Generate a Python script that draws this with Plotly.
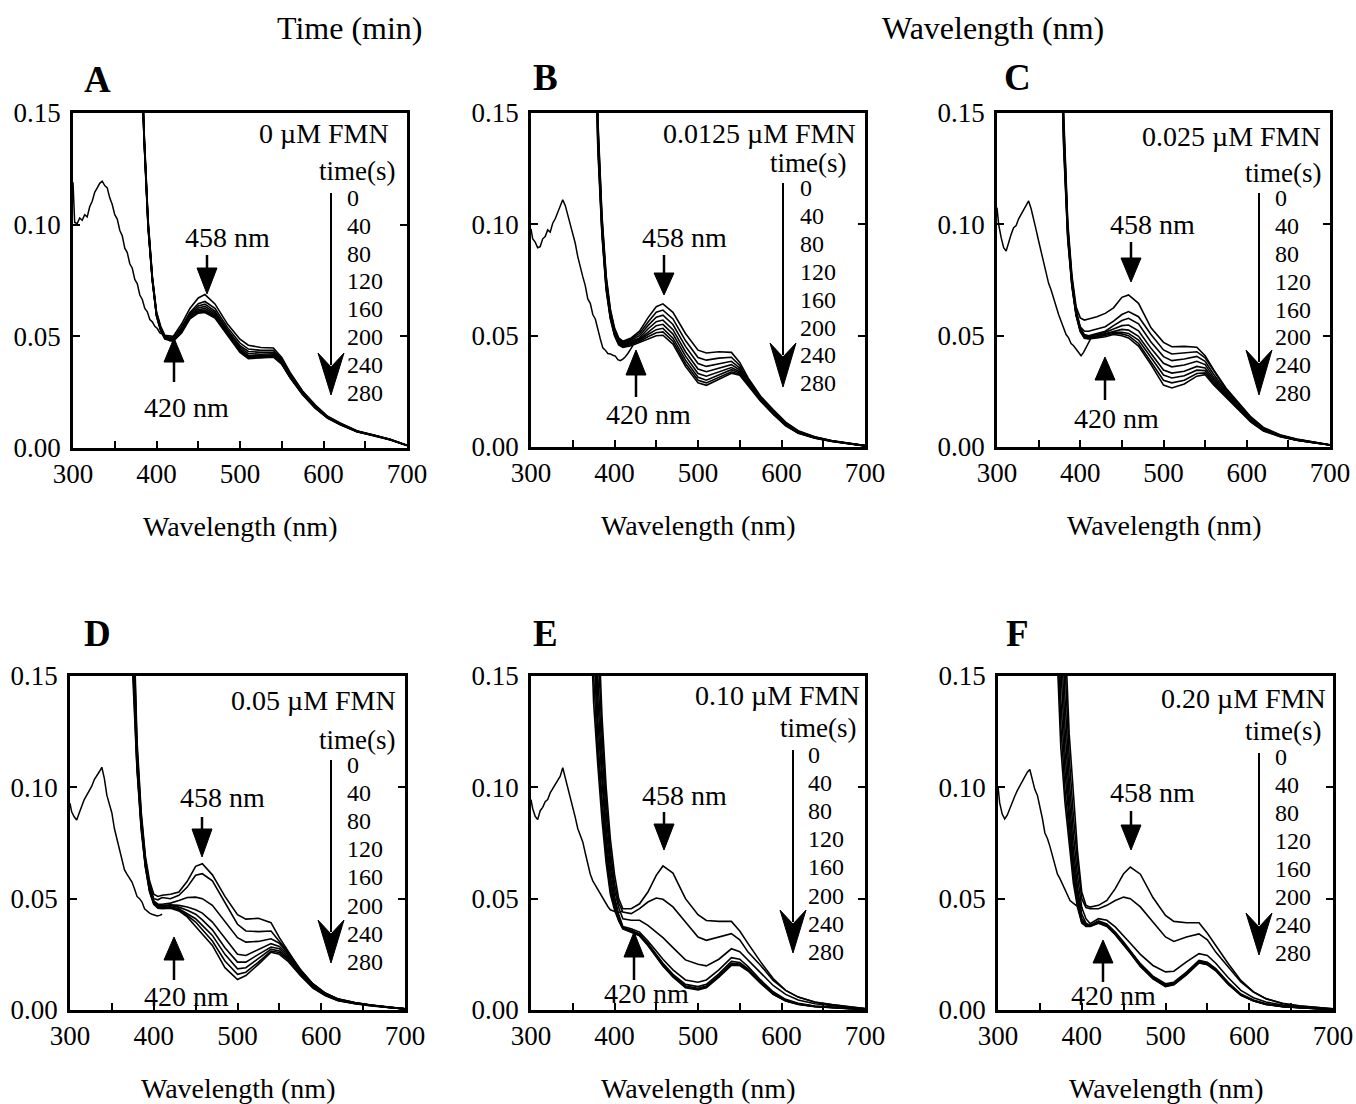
import plotly.graph_objects as go

# ---------------- data ----------------
TIMES = [0, 40, 80, 120, 160, 200, 240, 280]
TIME_LABELS = ["0", "40", "80", "120", "160", "200", "240", "280"]
FMN_LABELS = ["0 µM FMN", "0.0125 µM FMN", "0.025 µM FMN", "0.05 µM FMN", "0.10 µM FMN", "0.20 µM FMN"]
PANEL_LETTERS = ["A", "B", "C", "D", "E", "F"]
X_TICKS = [300, 400, 500, 600, 700]
Y_TICKS = [0.00, 0.05, 0.10, 0.15]

WL = [370, 375, 380, 385, 390, 395, 400, 405, 410, 420, 430, 440, 450, 458, 470, 485,
      500, 510, 525, 540, 550, 560, 575, 590, 605, 620, 640, 660, 680, 700]

REF_WL = [300, 302, 305, 308, 311, 314, 317, 320, 323, 326, 329, 332, 335, 338, 341, 344,
          347, 350, 353, 356, 359, 362, 365, 368, 371, 374, 377, 380, 383, 386, 389, 392,
          395, 398, 401, 404, 407, 410, 413, 416, 419, 422]

A_REF = [0.119, 0.101, 0.1005, 0.103, 0.102, 0.1045, 0.1035, 0.108, 0.1105, 0.1145, 0.1165, 0.1185,
         0.1195, 0.1175, 0.1165, 0.112, 0.109, 0.1045, 0.1025, 0.0975, 0.095, 0.0895, 0.0875, 0.0825,
         0.0805, 0.0755, 0.0735, 0.0685, 0.0665, 0.0625, 0.061, 0.0575, 0.0565, 0.0545, 0.0535, 0.0515,
         0.051, 0.0495, 0.049, 0.048, 0.0485, 0.0488]
B_REF = [0.098, 0.0935, 0.092, 0.0895, 0.090, 0.0935, 0.0945, 0.0975, 0.0965, 0.1005, 0.1025, 0.1055,
         0.1085, 0.111, 0.1085, 0.1045, 0.1005, 0.0955, 0.0915, 0.0855, 0.0805, 0.0765, 0.0725, 0.0665,
         0.0645, 0.0595, 0.0575, 0.0525, 0.0485, 0.0445, 0.0435, 0.042, 0.0418, 0.0412, 0.0408, 0.0392,
         0.0388, 0.0395, 0.0405, 0.042, 0.0438, 0.0455]
C_REF = [0.1075, 0.100, 0.094, 0.0895, 0.088, 0.092, 0.0955, 0.0985, 0.0995, 0.1025, 0.1045, 0.1065,
         0.109, 0.1105, 0.107, 0.1015, 0.0975, 0.0925, 0.0875, 0.0825, 0.0785, 0.0735, 0.0705, 0.0665,
         0.0635, 0.0595, 0.0565, 0.0535, 0.0505, 0.049, 0.0465, 0.0455, 0.044, 0.0425, 0.041, 0.0425,
         0.0445, 0.0465, 0.049, None, None, None]
D_REF = [0.0928, 0.089, 0.0868, 0.0853, 0.0885, 0.0915, 0.0945, 0.0965, 0.0985, 0.1005, 0.1035, 0.105,
         0.107, 0.109, 0.104, 0.0965, 0.0925, 0.0885, 0.0815, 0.077, 0.0725, 0.0685, 0.063, 0.061,
         0.0595, 0.0575, 0.0545, 0.051, 0.050, 0.0485, 0.0455, 0.0445, 0.0435, 0.043, 0.0425, 0.0422,
         0.0425, 0.043, None, None, None, None]
E_REF = [0.0945, 0.0905, 0.087, 0.0855, 0.0895, 0.091, 0.0935, 0.0945, 0.0975, 0.0995, 0.1015, 0.103,
         0.105, 0.1088, 0.1045, 0.1005, 0.096, 0.0915, 0.0865, 0.0815, 0.078, 0.0755, 0.0705, 0.0655,
         0.061, 0.058, 0.056, 0.054, 0.0525, 0.0505, 0.0485, 0.0465, 0.045, 0.0445, 0.044, 0.0437,
         0.044, 0.0445, None, None, None, None]
F_REF = [0.1005, 0.093, 0.088, 0.0858, 0.0875, 0.0905, 0.0935, 0.096, 0.0985, 0.1005, 0.103, 0.105,
         0.1068, 0.108, 0.104, 0.099, 0.0965, 0.0915, 0.086, 0.0795, 0.077, 0.0735, 0.0695, 0.066,
         0.061, 0.059, 0.0565, 0.054, 0.0515, 0.0492, 0.0482, 0.0472, 0.0465, 0.0462, 0.0458, None,
         None, None, None, None, None, None]

# spectra per time point (rows: 0..280 s), columns follow WL
A_SPECTRA = [
    [0.40, 0.30, 0.205, 0.143, 0.102, 0.077, 0.061, 0.0545, 0.0505, 0.0500, 0.0555, 0.0625, 0.0672, 0.0687, 0.0645, 0.0555, 0.0487, 0.0460, 0.0450, 0.0448, 0.0405, 0.0338, 0.0255, 0.0193, 0.0142, 0.0112, 0.0077, 0.0058, 0.0039, 0.0012],
    [0.40, 0.30, 0.204, 0.142, 0.101, 0.0765, 0.0605, 0.054, 0.050, 0.0493, 0.0542, 0.0607, 0.0646, 0.0656, 0.0625, 0.0540, 0.0470, 0.0443, 0.0437, 0.0437, 0.0397, 0.0332, 0.0251, 0.0190, 0.0140, 0.0110, 0.0076, 0.0058, 0.0038, 0.0012],
    [0.40, 0.30, 0.203, 0.141, 0.1005, 0.076, 0.060, 0.0535, 0.0498, 0.0490, 0.0536, 0.0601, 0.0636, 0.0644, 0.0613, 0.0530, 0.0458, 0.0432, 0.0428, 0.0429, 0.0391, 0.0327, 0.0248, 0.0187, 0.0138, 0.0109, 0.0075, 0.0057, 0.0038, 0.0012],
    [0.40, 0.30, 0.202, 0.1405, 0.100, 0.0758, 0.0598, 0.0533, 0.0496, 0.0488, 0.0531, 0.0596, 0.0627, 0.0634, 0.0605, 0.0523, 0.0450, 0.0423, 0.0420, 0.0422, 0.0386, 0.0323, 0.0245, 0.0185, 0.0137, 0.0108, 0.0075, 0.0057, 0.0038, 0.0012],
    [0.40, 0.30, 0.201, 0.140, 0.0995, 0.0755, 0.0596, 0.0531, 0.0494, 0.0485, 0.0526, 0.0591, 0.0619, 0.0625, 0.0598, 0.0517, 0.0443, 0.0415, 0.0414, 0.0417, 0.0382, 0.0320, 0.0243, 0.0183, 0.0136, 0.0107, 0.0074, 0.0057, 0.0037, 0.0012],
    [0.40, 0.30, 0.200, 0.1395, 0.099, 0.0752, 0.0594, 0.0529, 0.0492, 0.0483, 0.0521, 0.0586, 0.0613, 0.0618, 0.0592, 0.0512, 0.0437, 0.0410, 0.0409, 0.0413, 0.0379, 0.0318, 0.0241, 0.0181, 0.0135, 0.0106, 0.0074, 0.0056, 0.0037, 0.0011],
    [0.40, 0.30, 0.199, 0.139, 0.0985, 0.075, 0.0592, 0.0527, 0.049, 0.0480, 0.0518, 0.0581, 0.0608, 0.0612, 0.0587, 0.0508, 0.0432, 0.0405, 0.0405, 0.0410, 0.0377, 0.0316, 0.0240, 0.0180, 0.0134, 0.0105, 0.0073, 0.0056, 0.0037, 0.0011],
    [0.40, 0.30, 0.198, 0.1385, 0.098, 0.0748, 0.059, 0.0525, 0.0488, 0.0478, 0.0515, 0.0578, 0.0604, 0.0607, 0.0582, 0.0505, 0.0428, 0.0400, 0.0402, 0.0407, 0.0375, 0.0314, 0.0238, 0.0178, 0.0133, 0.0104, 0.0073, 0.0056, 0.0036, 0.0011],
]
B_SPECTRA = [
    [0.36, 0.25, 0.148, 0.104, 0.077, 0.062, 0.0535, 0.049, 0.0475, 0.0490, 0.0520, 0.0580, 0.0630, 0.0643, 0.0605, 0.0510, 0.0435, 0.0422, 0.0428, 0.0425, 0.0380, 0.0310, 0.0228, 0.0168, 0.0112, 0.0073, 0.0046, 0.0029, 0.0017, 0.0006],
    [0.355, 0.247, 0.146, 0.1025, 0.076, 0.0612, 0.053, 0.0485, 0.047, 0.0485, 0.0510, 0.0560, 0.0605, 0.0615, 0.0575, 0.0478, 0.0402, 0.0390, 0.0399, 0.0403, 0.0366, 0.0303, 0.0224, 0.0164, 0.0109, 0.0071, 0.0045, 0.0028, 0.0017, 0.0006],
    [0.35, 0.244, 0.144, 0.101, 0.075, 0.0605, 0.0525, 0.048, 0.0465, 0.0480, 0.0500, 0.0545, 0.0583, 0.0592, 0.0550, 0.0452, 0.0375, 0.0362, 0.0375, 0.0385, 0.0355, 0.0297, 0.0220, 0.0160, 0.0106, 0.0069, 0.0044, 0.0028, 0.0016, 0.0006],
    [0.345, 0.241, 0.142, 0.0995, 0.074, 0.0598, 0.052, 0.0475, 0.046, 0.0475, 0.0490, 0.0530, 0.0563, 0.0570, 0.0527, 0.0428, 0.0350, 0.0338, 0.0354, 0.0370, 0.0346, 0.0292, 0.0216, 0.0157, 0.0103, 0.0067, 0.0043, 0.0027, 0.0016, 0.0006],
    [0.34, 0.238, 0.140, 0.098, 0.073, 0.0592, 0.0515, 0.047, 0.0457, 0.0470, 0.0485, 0.0515, 0.0545, 0.0551, 0.0507, 0.0408, 0.0330, 0.0318, 0.0337, 0.0357, 0.0338, 0.0287, 0.0213, 0.0154, 0.0101, 0.0065, 0.0042, 0.0027, 0.0016, 0.0006],
    [0.335, 0.235, 0.138, 0.097, 0.072, 0.0586, 0.051, 0.0466, 0.0453, 0.0465, 0.0480, 0.0505, 0.0527, 0.0533, 0.0489, 0.0390, 0.0313, 0.0300, 0.0323, 0.0347, 0.0332, 0.0283, 0.0210, 0.0151, 0.0099, 0.0064, 0.0041, 0.0026, 0.0015, 0.0005],
    [0.33, 0.232, 0.136, 0.096, 0.0712, 0.058, 0.0505, 0.0462, 0.045, 0.0460, 0.0475, 0.0495, 0.0513, 0.0517, 0.0475, 0.0375, 0.0300, 0.0288, 0.0312, 0.0338, 0.0327, 0.0280, 0.0208, 0.0149, 0.0097, 0.0063, 0.0040, 0.0026, 0.0015, 0.0005],
    [0.325, 0.229, 0.134, 0.095, 0.0705, 0.0575, 0.050, 0.0458, 0.0447, 0.0455, 0.0470, 0.0488, 0.0500, 0.0502, 0.0462, 0.0362, 0.0288, 0.0277, 0.0303, 0.0331, 0.0322, 0.0277, 0.0206, 0.0147, 0.0095, 0.0062, 0.0039, 0.0025, 0.0015, 0.0005],
]
C_SPECTRA = [
    [0.34, 0.235, 0.15, 0.101, 0.077, 0.063, 0.058, 0.057, 0.0575, 0.0585, 0.0600, 0.0625, 0.0672, 0.0683, 0.0645, 0.0535, 0.0470, 0.0450, 0.0452, 0.0448, 0.0410, 0.0348, 0.0265, 0.0200, 0.0135, 0.0088, 0.0055, 0.0036, 0.0022, 0.0010],
    [0.335, 0.232, 0.147, 0.099, 0.0755, 0.0615, 0.054, 0.052, 0.052, 0.0530, 0.0540, 0.0565, 0.0595, 0.0608, 0.0585, 0.0505, 0.0436, 0.0418, 0.0422, 0.0428, 0.0400, 0.0343, 0.0260, 0.0195, 0.0131, 0.0085, 0.0053, 0.0035, 0.0021, 0.0010],
    [0.33, 0.229, 0.145, 0.098, 0.0748, 0.061, 0.0535, 0.0505, 0.050, 0.0510, 0.0520, 0.0545, 0.0568, 0.0578, 0.0553, 0.0472, 0.0406, 0.0388, 0.0395, 0.0407, 0.0385, 0.0328, 0.0252, 0.0189, 0.0127, 0.0082, 0.0051, 0.0034, 0.0021, 0.0009],
    [0.325, 0.226, 0.143, 0.097, 0.074, 0.0605, 0.053, 0.050, 0.0495, 0.0505, 0.0515, 0.0530, 0.0545, 0.0548, 0.0522, 0.0443, 0.0376, 0.0360, 0.0368, 0.0385, 0.0370, 0.0315, 0.0245, 0.0183, 0.0123, 0.0080, 0.0050, 0.0033, 0.0020, 0.0009],
    [0.32, 0.223, 0.141, 0.096, 0.0735, 0.060, 0.0527, 0.0497, 0.0492, 0.0500, 0.0510, 0.0520, 0.0528, 0.0525, 0.0497, 0.0420, 0.0346, 0.0332, 0.0340, 0.0362, 0.0355, 0.0305, 0.0238, 0.0177, 0.0119, 0.0078, 0.0049, 0.0032, 0.0020, 0.0009],
    [0.315, 0.22, 0.139, 0.095, 0.073, 0.0597, 0.0524, 0.0494, 0.049, 0.0497, 0.0505, 0.0515, 0.0515, 0.0510, 0.0480, 0.0400, 0.0323, 0.0310, 0.0320, 0.0345, 0.0343, 0.0296, 0.0232, 0.0173, 0.0116, 0.0076, 0.0048, 0.0031, 0.0019, 0.0009],
    [0.31, 0.217, 0.137, 0.094, 0.0725, 0.0594, 0.0521, 0.0491, 0.0487, 0.0493, 0.0500, 0.0510, 0.0508, 0.0500, 0.0465, 0.0385, 0.0300, 0.0288, 0.0300, 0.0330, 0.0333, 0.0288, 0.0228, 0.0170, 0.0114, 0.0074, 0.0047, 0.0031, 0.0019, 0.0009],
    [0.305, 0.214, 0.135, 0.093, 0.072, 0.059, 0.0518, 0.0488, 0.0485, 0.0490, 0.0495, 0.0505, 0.0500, 0.0490, 0.0453, 0.0370, 0.0278, 0.0265, 0.0283, 0.0318, 0.0325, 0.0280, 0.0224, 0.0168, 0.0112, 0.0072, 0.0046, 0.0030, 0.0019, 0.0009],
]
D_SPECTRA = [
    [0.33, 0.19, 0.121, 0.089, 0.069, 0.058, 0.052, 0.051, 0.0515, 0.0520, 0.0530, 0.0578, 0.0645, 0.0657, 0.0607, 0.0510, 0.0428, 0.0408, 0.0412, 0.0392, 0.0325, 0.0265, 0.0180, 0.0118, 0.0076, 0.0050, 0.0033, 0.0022, 0.0013, 0.0005],
    [0.32, 0.184, 0.118, 0.0875, 0.068, 0.0565, 0.050, 0.0495, 0.0505, 0.0500, 0.0515, 0.0552, 0.0605, 0.0612, 0.0580, 0.0482, 0.0385, 0.0355, 0.0352, 0.0355, 0.0310, 0.0262, 0.0183, 0.0117, 0.0075, 0.0049, 0.0033, 0.0021, 0.0013, 0.0005],
    [0.31, 0.178, 0.116, 0.086, 0.067, 0.0555, 0.049, 0.0475, 0.0475, 0.0480, 0.0492, 0.0505, 0.0507, 0.0500, 0.0470, 0.0400, 0.0325, 0.0305, 0.0308, 0.0320, 0.0300, 0.0255, 0.0180, 0.0116, 0.0074, 0.0048, 0.0032, 0.0021, 0.0013, 0.0005],
    [0.30, 0.172, 0.114, 0.085, 0.066, 0.055, 0.0485, 0.047, 0.047, 0.0472, 0.0470, 0.0463, 0.0450, 0.0435, 0.0395, 0.0320, 0.0250, 0.0245, 0.0272, 0.0298, 0.0285, 0.0248, 0.0172, 0.0111, 0.0071, 0.0046, 0.0031, 0.0020, 0.0012, 0.0005],
    [0.29, 0.166, 0.112, 0.084, 0.0655, 0.0545, 0.0482, 0.0465, 0.0465, 0.0468, 0.0462, 0.0448, 0.0430, 0.0405, 0.0360, 0.0280, 0.0215, 0.0215, 0.0250, 0.0283, 0.0275, 0.0240, 0.0168, 0.0108, 0.0069, 0.0045, 0.0030, 0.0020, 0.0012, 0.0005],
    [0.28, 0.16, 0.110, 0.083, 0.065, 0.054, 0.048, 0.0462, 0.046, 0.0463, 0.0455, 0.0433, 0.0410, 0.0380, 0.0335, 0.0250, 0.0185, 0.0190, 0.0230, 0.0273, 0.0265, 0.0233, 0.0163, 0.0105, 0.0067, 0.0044, 0.0029, 0.0019, 0.0012, 0.0005],
    [0.27, 0.155, 0.109, 0.082, 0.0645, 0.0535, 0.0478, 0.046, 0.0457, 0.0460, 0.0450, 0.0425, 0.0395, 0.0360, 0.0310, 0.0220, 0.0160, 0.0170, 0.0215, 0.0265, 0.0258, 0.0228, 0.0160, 0.0102, 0.0066, 0.0043, 0.0029, 0.0019, 0.0011, 0.0005],
    [0.26, 0.15, 0.108, 0.081, 0.064, 0.053, 0.0475, 0.0457, 0.0455, 0.0457, 0.0445, 0.0418, 0.0375, 0.0340, 0.0290, 0.0190, 0.0137, 0.0155, 0.0205, 0.0260, 0.0250, 0.0220, 0.0155, 0.0098, 0.0064, 0.0042, 0.0028, 0.0018, 0.0011, 0.0005],
]
E_SPECTRA = [
    [0.36, 0.26, 0.18, 0.132, 0.100, 0.077, 0.061, 0.050, 0.0455, 0.0455, 0.0477, 0.0530, 0.0605, 0.0647, 0.0615, 0.0500, 0.0428, 0.0402, 0.0398, 0.0398, 0.0355, 0.0298, 0.0216, 0.0141, 0.0088, 0.0058, 0.0036, 0.0024, 0.0015, 0.0006],
    [0.33, 0.24, 0.165, 0.124, 0.094, 0.072, 0.057, 0.048, 0.044, 0.0433, 0.0455, 0.0485, 0.0503, 0.0497, 0.0463, 0.0395, 0.0328, 0.0313, 0.0328, 0.0343, 0.0315, 0.0260, 0.0200, 0.0133, 0.0088, 0.0058, 0.0035, 0.0023, 0.0014, 0.0006],
    [0.30, 0.22, 0.150, 0.116, 0.088, 0.068, 0.054, 0.046, 0.041, 0.0403, 0.0403, 0.0380, 0.0350, 0.0325, 0.0280, 0.0225, 0.0205, 0.0198, 0.0228, 0.0275, 0.0262, 0.0225, 0.0165, 0.0110, 0.0070, 0.0045, 0.0028, 0.0018, 0.0011, 0.0005],
    [0.28, 0.20, 0.140, 0.108, 0.082, 0.064, 0.051, 0.043, 0.0375, 0.0365, 0.0350, 0.0310, 0.0265, 0.0228, 0.0180, 0.0135, 0.0125, 0.0135, 0.0180, 0.0235, 0.0228, 0.0195, 0.0135, 0.0082, 0.0048, 0.0030, 0.0018, 0.0012, 0.0008, 0.0004],
    [0.25, 0.18, 0.130, 0.101, 0.077, 0.060, 0.049, 0.042, 0.037, 0.0358, 0.0342, 0.0300, 0.0250, 0.0210, 0.0160, 0.0115, 0.0105, 0.0115, 0.0162, 0.0218, 0.0213, 0.0185, 0.0128, 0.0076, 0.0044, 0.0028, 0.0017, 0.0011, 0.0007, 0.0004],
    [0.23, 0.165, 0.122, 0.095, 0.073, 0.057, 0.047, 0.041, 0.0368, 0.0355, 0.0338, 0.0295, 0.0245, 0.0205, 0.0155, 0.0108, 0.0098, 0.0108, 0.0155, 0.0210, 0.0207, 0.0180, 0.0124, 0.0073, 0.0042, 0.0027, 0.0016, 0.0011, 0.0007, 0.0003],
    [0.21, 0.15, 0.115, 0.090, 0.069, 0.054, 0.046, 0.0405, 0.0366, 0.0352, 0.0335, 0.0292, 0.0242, 0.0200, 0.0150, 0.0103, 0.0093, 0.0103, 0.0150, 0.0205, 0.0203, 0.0177, 0.0121, 0.0071, 0.0041, 0.0026, 0.0016, 0.0010, 0.0006, 0.0003],
    [0.19, 0.138, 0.110, 0.0855, 0.066, 0.052, 0.045, 0.040, 0.0364, 0.0350, 0.0333, 0.0290, 0.0240, 0.0198, 0.0148, 0.0100, 0.0090, 0.0100, 0.0147, 0.0200, 0.0200, 0.0175, 0.0120, 0.0070, 0.0040, 0.0025, 0.0015, 0.0010, 0.0006, 0.0003],
]
F_SPECTRA = [
    [0.30, 0.24, 0.17, 0.124, 0.095, 0.071, 0.053, 0.047, 0.0462, 0.0470, 0.0492, 0.0545, 0.0612, 0.0642, 0.0610, 0.0505, 0.0425, 0.0398, 0.0392, 0.0392, 0.0345, 0.0290, 0.0208, 0.0133, 0.0081, 0.0051, 0.0028, 0.0018, 0.0012, 0.0005],
    [0.27, 0.215, 0.155, 0.114, 0.087, 0.066, 0.050, 0.046, 0.0455, 0.0455, 0.0470, 0.0492, 0.0507, 0.0500, 0.0463, 0.0395, 0.0328, 0.0308, 0.0328, 0.0342, 0.0315, 0.0260, 0.0193, 0.0126, 0.0081, 0.0051, 0.0030, 0.0019, 0.0012, 0.0005],
    [0.24, 0.19, 0.14, 0.104, 0.079, 0.060, 0.046, 0.041, 0.0388, 0.0410, 0.0403, 0.0373, 0.0335, 0.0300, 0.0250, 0.0200, 0.0171, 0.0174, 0.0216, 0.0253, 0.0245, 0.0210, 0.0145, 0.0088, 0.0055, 0.0036, 0.0022, 0.0014, 0.0009, 0.0004],
    [0.23, 0.17, 0.127, 0.096, 0.072, 0.055, 0.043, 0.039, 0.038, 0.0400, 0.0386, 0.0350, 0.0305, 0.0268, 0.0208, 0.0152, 0.0118, 0.0125, 0.0170, 0.0223, 0.0215, 0.0186, 0.0123, 0.0072, 0.0045, 0.0028, 0.0017, 0.0011, 0.0007, 0.0003],
    [0.215, 0.155, 0.116, 0.089, 0.067, 0.052, 0.041, 0.0385, 0.0378, 0.0397, 0.0383, 0.0346, 0.0301, 0.0264, 0.0204, 0.0148, 0.0114, 0.0121, 0.0166, 0.0219, 0.0211, 0.0183, 0.0120, 0.0070, 0.0043, 0.0027, 0.0016, 0.0010, 0.0006, 0.0003],
    [0.20, 0.14, 0.107, 0.083, 0.063, 0.049, 0.040, 0.038, 0.0377, 0.0395, 0.0380, 0.0343, 0.0298, 0.0260, 0.0200, 0.0145, 0.0110, 0.0118, 0.0163, 0.0216, 0.0208, 0.0180, 0.0118, 0.0068, 0.0042, 0.0026, 0.0016, 0.0010, 0.0006, 0.0003],
    [0.18, 0.128, 0.099, 0.079, 0.060, 0.047, 0.0395, 0.0378, 0.0376, 0.0392, 0.0377, 0.0340, 0.0295, 0.0257, 0.0197, 0.0142, 0.0107, 0.0115, 0.0160, 0.0213, 0.0205, 0.0178, 0.0116, 0.0067, 0.0041, 0.0025, 0.0015, 0.0010, 0.0006, 0.0003],
    [0.165, 0.118, 0.093, 0.075, 0.057, 0.046, 0.039, 0.0375, 0.0375, 0.0390, 0.0375, 0.0338, 0.0293, 0.0255, 0.0195, 0.0140, 0.0105, 0.0113, 0.0158, 0.0211, 0.0203, 0.0176, 0.0115, 0.0066, 0.0040, 0.0025, 0.0015, 0.0009, 0.0006, 0.0003],
]

REFS = [A_REF, B_REF, C_REF, D_REF, E_REF, F_REF]
SPECTRA = [A_SPECTRA, B_SPECTRA, C_SPECTRA, D_SPECTRA, E_SPECTRA, F_SPECTRA]

# ---------------- layout geometry (window pixels) ----------------
W_PX, H_PX = 1356, 1104
SERIF = "Liberation Serif, Times New Roman, serif"


def px(x):
    return x / W_PX


def py(y):
    return 1 - y / H_PX


# plot areas: (left, right, top, bottom) in window pixels
AREAS = [(73, 407, 113, 448), (531, 865, 113, 447), (997, 1330, 113, 447),
         (70, 405, 676, 1010), (531, 865, 676, 1010), (998, 1333, 676, 1010)]

# decoration positions per panel (window pixels)
PANEL_DECOR = [
    dict(letter=(97, 79), fmn=(391, 134), time_hdr=(397, 173), t0=(347, 198), tstep=27.8,
         tarrow=(331, 193, 353, 395),
         a458=(207, 255, 268, 294), t458=(227, 237),
         a420=(174, 338, 362, 382), t420=(186, 407)),
    dict(letter=(545, 77), fmn=(858, 134), time_hdr=(848, 165), t0=(800, 188), tstep=27.9,
         tarrow=(783, 183, 343, 387),
         a458=(664, 255, 273, 295), t458=(684, 237),
         a420=(636, 350, 375, 397), t420=(648, 414)),
    dict(letter=(1017, 77), fmn=(1323, 136), time_hdr=(1323, 175), t0=(1275, 198), tstep=27.9,
         tarrow=(1259, 193, 350, 395),
         a458=(1131, 242, 258, 282), t458=(1152, 224),
         a420=(1105, 357, 380, 400), t420=(1116, 418)),
    dict(letter=(97, 633), fmn=(398, 700), time_hdr=(397, 742), t0=(347, 765), tstep=28.1,
         tarrow=(331, 760, 920, 963),
         a458=(202, 817, 829, 857), t458=(222, 797),
         a420=(174, 937, 960, 980), t420=(186, 996)),
    dict(letter=(545, 633), fmn=(862, 695), time_hdr=(858, 730), t0=(808, 755), tstep=28.1,
         tarrow=(793, 750, 910, 953),
         a458=(664, 812, 824, 850), t458=(684, 795),
         a420=(634, 932, 957, 980), t420=(646, 993)),
    dict(letter=(1017, 633), fmn=(1328, 698), time_hdr=(1323, 733), t0=(1275, 757), tstep=28.0,
         tarrow=(1259, 753, 913, 955),
         a458=(1131, 811, 825, 850), t458=(1152, 792),
         a420=(1103, 940, 963, 982), t420=(1113, 995)),
]

fig = go.Figure()
shapes = []
annotations = []

for i in range(6):
    ax_id = "" if i == 0 else str(i + 1)
    xa, ya = "x" + ax_id, "y" + ax_id
    left, right, top, bottom = AREAS[i]

    # reference (thin) spectrum
    fig.add_trace(go.Scatter(x=REF_WL, y=REFS[i], mode="lines", xaxis=xa, yaxis=ya,
                             line=dict(color="black", width=1.5), showlegend=False,
                             connectgaps=False, hoverinfo="skip"))
    # time-course spectra
    for k, row in enumerate(SPECTRA[i]):
        fig.add_trace(go.Scatter(x=WL, y=row, mode="lines", xaxis=xa, yaxis=ya,
                                 line=dict(color="black", width=1.6), showlegend=False,
                                 name=f"{TIMES[k]} s", hoverinfo="skip"))

    axis_common = dict(showline=True, linecolor="black", linewidth=2.5, mirror=True,
                       showgrid=False, zeroline=False, ticks="inside", ticklen=7,
                       tickwidth=2, tickcolor="black", automargin=False,
                       tickfont=dict(family=SERIF, size=27, color="black"))
    fig.update_layout(**{
        "xaxis" + ax_id: dict(axis_common, domain=[px(left), px(right)], range=[300, 700],
                              tickvals=X_TICKS, anchor=ya, ticklabelstandoff=0,
                              minor=dict(dtick=50, tick0=300, ticks="inside", ticklen=7,
                                         tickwidth=2, tickcolor="black")),
        "yaxis" + ax_id: dict(axis_common, domain=[py(bottom), py(top)], range=[0, 0.15],
                              tickvals=Y_TICKS, tickformat=".2f", anchor=xa,
                              mirror="ticks", ticklabelstandoff=4),
    })

    d = PANEL_DECOR[i]
    # panel letter
    annotations.append(dict(x=px(d["letter"][0]), y=py(d["letter"][1]), xref="paper", yref="paper",
                            text=PANEL_LETTERS[i], showarrow=False, xanchor="center", yanchor="middle",
                            font=dict(family=SERIF, size=37, color="black", weight="bold")))
    # FMN concentration
    annotations.append(dict(x=px(d["fmn"][0]), y=py(d["fmn"][1]), xref="paper", yref="paper",
                            text=FMN_LABELS[i], showarrow=False, xanchor="right", yanchor="middle",
                            font=dict(family=SERIF, size=28, color="black")))
    # time header
    annotations.append(dict(x=px(d["time_hdr"][0]), y=py(d["time_hdr"][1] - 2), xref="paper", yref="paper",
                            text="time(s)", showarrow=False, xanchor="right", yanchor="middle",
                            font=dict(family=SERIF, size=27, color="black")))
    # time values
    for k, lab in enumerate(TIME_LABELS):
        annotations.append(dict(x=px(d["t0"][0] - 2), y=py(d["t0"][1] + k * d["tstep"]),
                                xref="paper", yref="paper", text=lab, showarrow=False,
                                xanchor="left", yanchor="middle",
                                font=dict(family=SERIF, size=24, color="black")))
    # x axis title
    annotations.append(dict(x=px((left + right) / 2), y=py(bottom + 78), xref="paper", yref="paper",
                            text="Wavelength (nm)", showarrow=False, xanchor="center", yanchor="middle",
                            font=dict(family=SERIF, size=28, color="black")))
    # 458 / 420 labels
    annotations.append(dict(x=px(d["t458"][0]), y=py(d["t458"][1]), xref="paper", yref="paper",
                            text="458 nm", showarrow=False, xanchor="center", yanchor="middle",
                            font=dict(family=SERIF, size=28, color="black")))
    annotations.append(dict(x=px(d["t420"][0]), y=py(d["t420"][1]), xref="paper", yref="paper",
                            text="420 nm", showarrow=False, xanchor="center", yanchor="middle",
                            font=dict(family=SERIF, size=28, color="black")))

    # time arrow: shaft + barbed head
    xc, ytop, ybarb, ytip = d["tarrow"]
    shapes.append(dict(type="line", xref="paper", yref="paper", x0=px(xc), x1=px(xc),
                       y0=py(ytop), y1=py(ybarb + 12), line=dict(color="black", width=2)))
    path = (f"M{px(xc - 13)},{py(ybarb)} L{px(xc)},{py(ytip)} L{px(xc + 13)},{py(ybarb)} "
            f"L{px(xc)},{py(ybarb + 14)} Z")
    shapes.append(dict(type="path", xref="paper", yref="paper", path=path,
                       fillcolor="black", line=dict(color="black", width=1)))

    # 458 arrow (pointing down)
    xc, ys, yh, yt = d["a458"]
    shapes.append(dict(type="line", xref="paper", yref="paper", x0=px(xc), x1=px(xc),
                       y0=py(ys), y1=py(yh + 2), line=dict(color="black", width=2.5)))
    path = f"M{px(xc - 10)},{py(yh)} L{px(xc + 10)},{py(yh)} L{px(xc)},{py(yt)} Z"
    shapes.append(dict(type="path", xref="paper", yref="paper", path=path,
                       fillcolor="black", line=dict(color="black", width=1)))
    # 420 arrow (pointing up)
    xc, yt, yh, ys = d["a420"]
    shapes.append(dict(type="line", xref="paper", yref="paper", x0=px(xc), x1=px(xc),
                       y0=py(ys), y1=py(yh - 2), line=dict(color="black", width=2.5)))
    path = f"M{px(xc - 10)},{py(yh)} L{px(xc + 10)},{py(yh)} L{px(xc)},{py(yt)} Z"
    shapes.append(dict(type="path", xref="paper", yref="paper", path=path,
                       fillcolor="black", line=dict(color="black", width=1)))

# stray top labels
annotations.append(dict(x=px(350), y=py(28), xref="paper", yref="paper", text="Time (min)",
                        showarrow=False, xanchor="center", yanchor="middle",
                        font=dict(family=SERIF, size=32, color="black")))
annotations.append(dict(x=px(993), y=py(28), xref="paper", yref="paper", text="Wavelength (nm)",
                        showarrow=False, xanchor="center", yanchor="middle",
                        font=dict(family=SERIF, size=32, color="black")))

fig.update_layout(template="none", width=W_PX, height=H_PX, margin=dict(l=0, r=0, t=0, b=0, pad=0),
                  paper_bgcolor="white", plot_bgcolor="white", showlegend=False,
                  shapes=shapes, annotations=annotations)

# remove the page's default body margin so the figure fills the window exactly; hide the modebar
fig.write_html("out.html", config={"displayModeBar": False},
               post_script="document.body.style.margin='0';document.body.style.overflow='hidden';")
